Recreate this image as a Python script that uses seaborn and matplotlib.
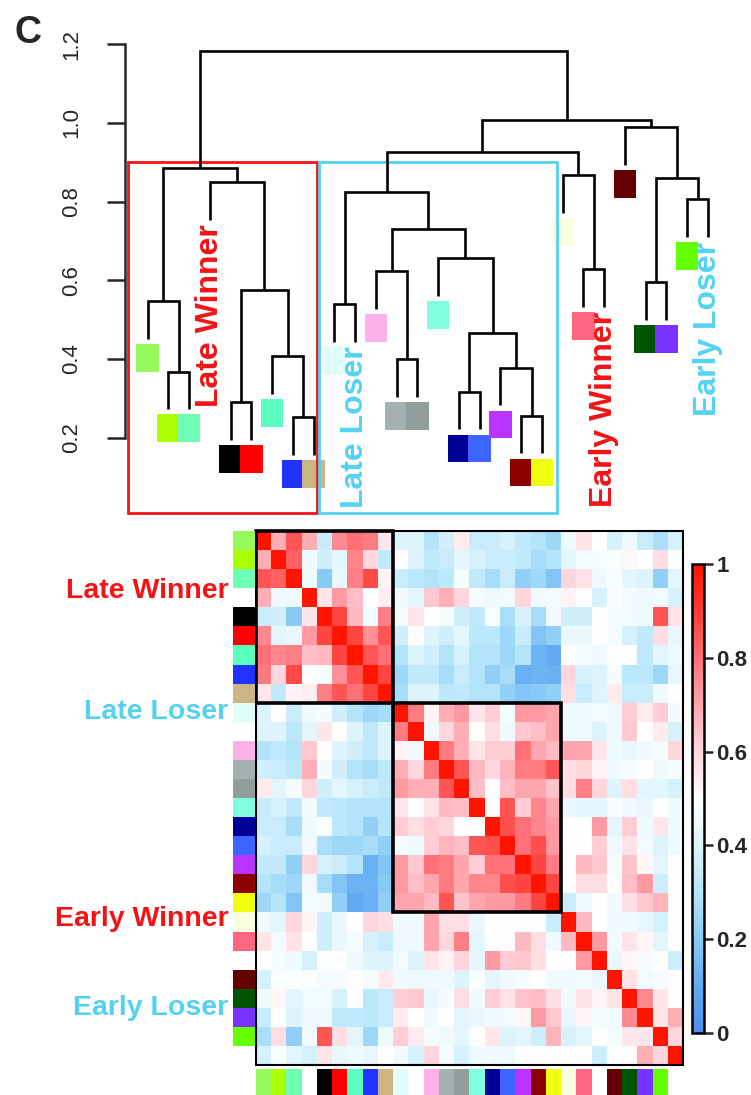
import numpy as np
import pandas as pd
import matplotlib
matplotlib.use("Agg")
import matplotlib.pyplot as plt
import seaborn as sns
from matplotlib.colors import LinearSegmentedColormap, ListedColormap
from matplotlib.patches import Rectangle

sns.set_style("white")
plt.rcParams["font.family"] = ["Liberation Sans", "DejaVu Sans"]

# LEAF COLOURS (in dendrogram order)
leaf_colors = [
    "#96f95c", "#aaff00", "#6effb4", "#ffffff", "#000000", "#ff0000", "#5affc0",
    "#2233ff", "#cdb485", "#e0fffa", "#ffffff", "#fcb2e8", "#a3b1b0", "#909f9c",
    "#7fffdd", "#000099", "#3c64ff", "#bb33ff", "#8c0000", "#f0ff10", "#fbfde0",
    "#ff6680", "#ffffff", "#660000", "#005500", "#7733ff", "#66ff00", "#ffffff",
]

# MERGES: (left, right, height); leaves 0..27, merge k gets id 28 + k
merges = [
    (1, 2, 0.368), (0, 28, 0.546), (4, 5, 0.290), (7, 8, 0.252),
    (6, 31, 0.408), (30, 32, 0.575), (3, 33, 0.850), (29, 34, 0.886),
    (9, 10, 0.540), (12, 13, 0.400), (11, 37, 0.624), (15, 16, 0.317),
    (18, 19, 0.256), (17, 40, 0.378), (39, 41, 0.465), (14, 42, 0.656),
    (38, 43, 0.730), (36, 44, 0.824), (21, 22, 0.628), (20, 46, 0.868),
    (45, 47, 0.925), (24, 25, 0.595), (26, 27, 0.806), (49, 50, 0.861),
    (23, 51, 0.989), (48, 52, 1.007), (35, 53, 1.183),
]

# GROUPS
group_names = ["Late Winner", "Late Loser", "Early Winner", "Early Loser"]
group_colors = ["#f21414", "#55d2f2", "#f21414", "#55d2f2"]
group_leaf = [3, 10, 22, 27]          # white leaf carrying the label
group_row_pos = [3.5, 9.86, 20.7, 25.4]

# CORRELATION MATRIX (upper triangle, row i holds cols i+1..27)
corr_upper = [
    [0.68, 0.85, 0.68, 0.35, 0.75, 0.80, 0.78, 0.56, 0.40, 0.40, 0.30, 0.37, 0.55, 0.35, 0.35, 0.38, 0.33, 0.30, 0.25, 0.45, 0.57, 0.50, 0.38, 0.45, 0.35, 0.28, 0.38],
    [0.83, 0.45, 0.37, 0.42, 0.76, 0.60, 0.33, 0.50, 0.40, 0.33, 0.35, 0.42, 0.38, 0.35, 0.35, 0.33, 0.27, 0.30, 0.42, 0.46, 0.47, 0.48, 0.52, 0.50, 0.58, 0.48],
    [0.45, 0.20, 0.44, 0.77, 0.87, 0.53, 0.35, 0.32, 0.30, 0.32, 0.47, 0.33, 0.27, 0.35, 0.22, 0.25, 0.18, 0.60, 0.57, 0.45, 0.48, 0.42, 0.40, 0.22, 0.42],
    [0.56, 0.72, 0.65, 0.50, 0.54, 0.45, 0.42, 0.63, 0.68, 0.60, 0.47, 0.45, 0.46, 0.60, 0.46, 0.46, 0.53, 0.50, 0.38, 0.48, 0.46, 0.45, 0.46, 0.38],
    [0.88, 0.66, 0.47, 0.77, 0.47, 0.56, 0.50, 0.47, 0.37, 0.33, 0.48, 0.28, 0.38, 0.27, 0.46, 0.37, 0.37, 0.50, 0.47, 0.46, 0.45, 0.85, 0.57],
    [0.88, 0.74, 0.85, 0.37, 0.50, 0.40, 0.37, 0.42, 0.32, 0.32, 0.25, 0.35, 0.18, 0.22, 0.44, 0.44, 0.50, 0.47, 0.38, 0.33, 0.58, 0.44],
    [0.85, 0.80, 0.30, 0.40, 0.37, 0.30, 0.38, 0.30, 0.30, 0.25, 0.30, 0.13, 0.10, 0.50, 0.47, 0.45, 0.50, 0.50, 0.33, 0.42, 0.45],
    [0.88, 0.25, 0.33, 0.33, 0.27, 0.35, 0.30, 0.22, 0.27, 0.12, 0.13, 0.12, 0.60, 0.38, 0.40, 0.47, 0.32, 0.32, 0.25, 0.43],
    [0.27, 0.40, 0.40, 0.32, 0.33, 0.30, 0.30, 0.22, 0.18, 0.20, 0.22, 0.58, 0.35, 0.40, 0.55, 0.35, 0.35, 0.45, 0.50],
    [0.78, 0.53, 0.68, 0.72, 0.56, 0.62, 0.47, 0.72, 0.72, 0.70, 0.45, 0.45, 0.46, 0.45, 0.62, 0.55, 0.62, 0.46],
    [0.45, 0.60, 0.68, 0.50, 0.58, 0.45, 0.63, 0.65, 0.70, 0.45, 0.45, 0.40, 0.45, 0.63, 0.50, 0.55, 0.38],
    [0.78, 0.68, 0.57, 0.62, 0.62, 0.80, 0.70, 0.66, 0.70, 0.70, 0.56, 0.45, 0.43, 0.45, 0.47, 0.60],
    [0.85, 0.66, 0.60, 0.67, 0.78, 0.78, 0.85, 0.58, 0.60, 0.53, 0.45, 0.47, 0.50, 0.45, 0.47],
    [0.65, 0.50, 0.65, 0.70, 0.70, 0.64, 0.58, 0.77, 0.60, 0.40, 0.58, 0.42, 0.42, 0.38],
    [0.50, 0.85, 0.62, 0.76, 0.70, 0.44, 0.42, 0.42, 0.48, 0.45, 0.44, 0.50, 0.45],
    [0.86, 0.80, 0.76, 0.72, 0.50, 0.50, 0.72, 0.42, 0.62, 0.45, 0.56, 0.45],
    [0.80, 0.86, 0.72, 0.50, 0.50, 0.62, 0.45, 0.57, 0.46, 0.40, 0.45],
    [0.88, 0.78, 0.50, 0.66, 0.63, 0.47, 0.64, 0.52, 0.42, 0.50],
    [0.88, 0.50, 0.58, 0.58, 0.50, 0.65, 0.72, 0.36, 0.50],
    [0.35, 0.45, 0.50, 0.45, 0.58, 0.63, 0.67, 0.50],
    [0.66, 0.50, 0.45, 0.45, 0.43, 0.38, 0.50],
    [0.72, 0.46, 0.57, 0.52, 0.42, 0.50],
    [0.44, 0.52, 0.47, 0.50, 0.36],
    [0.57, 0.46, 0.47, 0.50],
    [0.75, 0.56, 0.50],
    [0.56, 0.68],
    [0.60],
]

cbar_ticks = [0, 0.2, 0.4, 0.6, 0.8, 1]
cbar_labels = ["0", "0.2", "0.4", "0.6", "0.8", "1"]
dend_ticks = [0.2, 0.4, 0.6, 0.8, 1.0, 1.2]

# build full matrix
n = len(leaf_colors)
corr = np.eye(n)
for i, row in enumerate(corr_upper):
    for k, v in enumerate(row):
        corr[i, i + 1 + k] = v
        corr[i + 1 + k, i] = v
corr_df = pd.DataFrame(corr)

W, H = 751, 1095
fig = plt.figure(figsize=(W / 100, H / 100), dpi=100)


def fig_box(x0, y0, x1, y1):
    # pixel box (top-left origin) -> figure fraction rect
    return [x0 / W, 1 - y1 / H, (x1 - x0) / W, (y1 - y0) / H]


# DENDROGRAM
ax_d = fig.add_axes(fig_box(0, 0, W, 516.4))
ax_d.set_xlim(-147.7 / 20.75, (W - 147.7) / 20.75)
ax_d.set_ylim(0.0, 1.312)

hang = 0.096
pos = {i: float(i) for i in range(n)}
height = {}
leaf_end = {}
for k, (a, b, h) in enumerate(merges):
    node = n + k
    pos[node] = (pos[a] + pos[b]) / 2
    height[node] = h
    ya = height[a] if a >= n else h - hang
    yb = height[b] if b >= n else h - hang
    if a < n:
        leaf_end[a] = ya
    if b < n:
        leaf_end[b] = yb
    ax_d.plot([pos[a], pos[a], pos[b], pos[b]], [ya, h, h, yb],
              color="black", lw=1.9, solid_capstyle="butt", solid_joinstyle="miter")

for i, c in enumerate(leaf_colors):
    if c.lower() == "#ffffff":
        continue
    ax_d.add_patch(Rectangle((i - 0.54, leaf_end[i] - 0.013 - 0.071), 1.08, 0.071,
                             facecolor=c, edgecolor="none"))

for name, col, leaf in zip(group_names, group_colors, group_leaf):
    ax_d.text(leaf, leaf_end[leaf] - 0.012, name, rotation=90, ha="center", va="top",
              color=col, fontsize=23, fontweight="bold")

# cluster boxes
ax_d.add_patch(Rectangle((0 - 0.93, 0.009), 9.07, 0.891, fill=False,
                         edgecolor="#f21414", lw=2.0))
ax_d.add_patch(Rectangle((9 - 0.74, 0.009), 11.45, 0.891, fill=False,
                         edgecolor="#55d2f2", lw=2.0))

for s in ["top", "right", "bottom"]:
    ax_d.spines[s].set_visible(False)
ax_d.spines["left"].set_position(("data", -1.094))
ax_d.spines["left"].set_bounds(0.2, 1.2)
ax_d.spines["left"].set_linewidth(1.8)
ax_d.set_xticks([])
ax_d.set_yticks(dend_ticks)
ax_d.set_yticklabels([f"{t:.1f}" for t in dend_ticks], rotation=90, va="center",
                     fontsize=16)
ax_d.tick_params(axis="y", direction="out", length=13, width=1.8, pad=18, left=True)
ax_d.patch.set_alpha(0)

fig.text(15 / W, 1 - 43 / H, "C", fontsize=27, fontweight="bold", va="baseline")

# HEATMAP
cmap = LinearSegmentedColormap.from_list("corr", [
    (0.0, "#4c8fee"), (0.1, "#62aaf3"), (0.2, "#88caf6"), (0.3, "#b4e5fa"),
    (0.4, "#ddf4fc"), (0.5, "#ffffff"), (0.6, "#ffd6dc"), (0.7, "#ffa6ae"),
    (0.8, "#ff7077"), (0.9, "#ff3c34"), (1.0, "#ff1400")])

ax_h = fig.add_axes(fig_box(255.7, 531, 683.3, 1065))
ax_cb = fig.add_axes(fig_box(691.7, 564.3, 704.3, 1032.7))
sns.heatmap(corr_df, ax=ax_h, cmap=cmap, vmin=0, vmax=1, cbar_ax=ax_cb,
            xticklabels=False, yticklabels=False)

ax_h.add_patch(Rectangle((0, 0), n, n, fill=False, edgecolor="black", lw=1.5, clip_on=False))
ax_h.add_patch(Rectangle((0, 0), 9, 9, fill=False, edgecolor="black", lw=2.6, clip_on=False))
ax_h.add_patch(Rectangle((9, 9), 11, 11, fill=False, edgecolor="black", lw=2.6, clip_on=False))

for name, col, yy in zip(group_names, group_colors, group_row_pos):
    ax_h.text(-1.8, yy, name, ha="right", va="baseline", color=col,
              fontsize=20.5, fontweight="bold", clip_on=False)

cb = ax_h.collections[0].colorbar
cb.set_ticks(cbar_ticks)
cb.set_ticklabels(cbar_labels)
cb.outline.set_edgecolor("black")
cb.outline.set_linewidth(1.8)
cb.ax.tick_params(length=6.3, width=1.8, pad=2.5, labelsize=16)
for t in cb.ax.get_yticklabels():
    t.set_fontweight("bold")

# SIDE COLOUR BARS
side_cmap = ListedColormap(leaf_colors)
idx = np.arange(n)
ax_s = fig.add_axes(fig_box(233.3, 531, 255.0, 1065))
sns.heatmap(idx.reshape(-1, 1), ax=ax_s, cmap=side_cmap, vmin=-0.5, vmax=n - 0.5,
            cbar=False, xticklabels=False, yticklabels=False)
ax_b = fig.add_axes(fig_box(255.7, 1069.3, 683.3, 1095))
sns.heatmap(idx.reshape(1, -1), ax=ax_b, cmap=side_cmap, vmin=-0.5, vmax=n - 0.5,
            cbar=False, xticklabels=False, yticklabels=False)

plt.savefig("out.png", dpi=100)
